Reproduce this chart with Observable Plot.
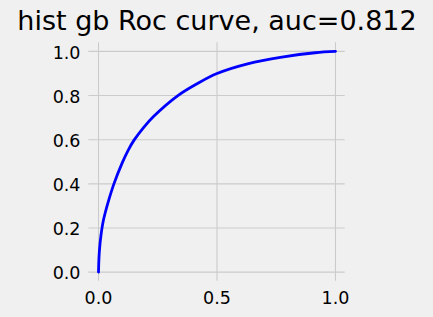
<!DOCTYPE html>
<html>
<head>
<meta charset="utf-8">
<script src="https://cdn.jsdelivr.net/npm/d3@7"></script>
<script src="https://cdn.jsdelivr.net/npm/@observablehq/plot@0.6"></script>
<style>
  html, body { margin: 0; padding: 0; background: #f0f0f0; }
  svg { display: block; }
</style>
</head>
<body>
<div id="chart"></div>
<script>
const title = "hist gb Roc curve, auc=0.812";
const fpr = [0, 0.001, 0.003, 0.006, 0.01, 0.014, 0.02, 0.028, 0.045, 0.065, 0.1, 0.125, 0.15, 0.19, 0.232, 0.335, 0.418, 0.5, 0.633, 0.774, 0.914, 1.0];
const tpr = [0, 0.04, 0.085, 0.125, 0.163, 0.195, 0.232, 0.268, 0.333, 0.4, 0.495, 0.552, 0.598, 0.655, 0.705, 0.8, 0.855, 0.9, 0.945, 0.974, 0.994, 1.0];
const xTicks = [0, 0.5, 1.0];
const yTicks = [0, 0.2, 0.4, 0.6, 0.8, 1.0];

const roc = fpr.map((f, i) => ({fpr: f, tpr: tpr[i]}));

const chart = Plot.plot({
  width: 433,
  height: 317,
  marginLeft: 88.3,
  marginRight: 88.3,
  marginTop: 42.3,
  marginBottom: 36.3,
  style: {background: "#f0f0f0", fontFamily: "DejaVu Sans", color: "#000", fontSize: "17.5px"},
  x: {domain: [-0.041, 1.041]},
  y: {domain: [-0.041, 1.039]},
  marks: [
    Plot.gridX(xTicks, {stroke: "#cbcbcb", strokeOpacity: 1, strokeWidth: 1.1}),
    Plot.gridY(yTicks, {stroke: "#cbcbcb", strokeOpacity: 1, strokeWidth: 1.1}),
    Plot.axisX(xTicks, {tickSize: 0, tickPadding: 10, tickFormat: d3.format(".1f"), label: null, fontSize: 17.5}),
    Plot.axisY(yTicks, {tickSize: 0, tickPadding: 8.3, tickFormat: d3.format(".1f"), label: null, fontSize: 17.5, dy: 1.5}),
    Plot.line(roc, {x: "fpr", y: "tpr", stroke: "blue", strokeWidth: 2.8, curve: "catmull-rom"}),
    Plot.text([title], {frameAnchor: "top", dy: -21.6, fontSize: 27, fill: "#000", lineAnchor: "middle"})
  ]
});
document.getElementById("chart").appendChild(chart);
</script>
</body>
</html>
